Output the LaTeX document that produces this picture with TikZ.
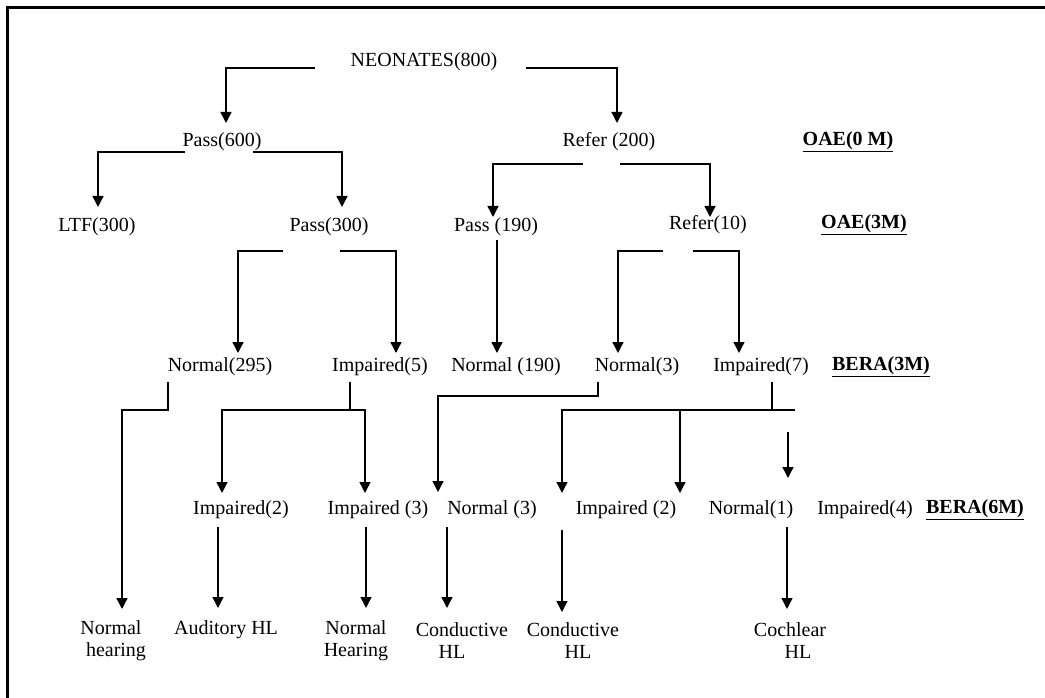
\documentclass[tikz,border=0pt]{standalone}
\usepackage{fontspec}
\setmainfont{Liberation Serif}
\usetikzlibrary{arrows.meta}
\tikzset{
  lbl/.style={inner sep=0pt, font=\fontsize{20}{22}\selectfont},
  two/.style={lbl, align=center},
  conn/.style={line width=1.4pt, line join=miter},
  arr/.style={conn, -{Triangle[length=11pt,width=11pt]}},
  frame/.style={line width=3pt}
}
\begin{document}
\begin{tikzpicture}[x=1pt,y=-1pt]
\useasboundingbox (0,0) rectangle (1045,698);
\draw[frame] (7,698) -- (7,7.5) -- (1045,7.5);

% nodes
\node[lbl] (neo) at (424,62) {NEONATES(800)};
\node[lbl] (p600) at (222,142) {Pass(600)};
\node[lbl] (r200) at (609,142) {Refer (200)};
\node[lbl] (oae0) at (848,142) {\underline{\textbf{OAE(0 M)}}};
\node[lbl] (ltf) at (97,227) {LTF(300)};
\node[lbl] (p300) at (329,227) {Pass(300)};
\node[lbl] (p190) at (496,227) {Pass (190)};
\node[lbl] (r10) at (708,225) {Refer(10)};
\node[lbl] (oae3) at (864,225) {\underline{\textbf{OAE(3M)}}};
\node[lbl] (n295) at (220,367) {Normal(295)};
\node[lbl] (i5) at (380,367) {Impaired(5)};
\node[lbl] (n190) at (506,367) {Normal (190)};
\node[lbl] (n3a) at (637,367) {Normal(3)};
\node[lbl] (i7) at (761,367) {Impaired(7)};
\node[lbl] (bera3) at (881,367) {\underline{\textbf{BERA(3M)}}};
\node[lbl] (i2a) at (241,510) {Impaired(2)};
\node[lbl] (i3) at (378,510) {Impaired (3)};
\node[lbl] (n3b) at (492,510) {Normal (3)};
\node[lbl] (i2b) at (626,510) {Impaired (2)};
\node[lbl] (n1) at (751,510) {Normal(1)};
\node[lbl] (i4) at (865,510) {Impaired(4)};
\node[lbl] (bera6) at (975,510) {\underline{\textbf{BERA(6M)}}};
\node[two] (nh1) at (111,641) {Normal\\\hspace*{10pt}hearing};
\node[lbl] (ahl) at (226,630) {Auditory HL};
\node[two] (nh2) at (356,641) {Normal\\Hearing};
\node[two] (chl1) at (462,641) {Conductive\\HL\hspace*{20pt}};
\node[two] (chl2) at (573,641) {Conductive\\\hspace*{10pt}HL};
\node[two] (cochl) at (790,641) {Cochlear\\\hspace*{16pt}HL};

% connector ends
\coordinate (neoL) at (315,68);
\coordinate (neoR) at (526,68);
\coordinate (p600in) at (226,123);
\coordinate (r200in) at (617,123);
\coordinate (p600L) at (185,152);
\coordinate (p600R) at (253,152);
\coordinate (ltfin) at (98,207);
\coordinate (p300in) at (342,207);
\coordinate (r200L) at (583,164);
\coordinate (r200R) at (620,164);
\coordinate (p190in) at (493,217);
\coordinate (r10in) at (710,217);
\coordinate (p300L) at (283,251);
\coordinate (p300R) at (340,251);
\coordinate (n295in) at (238,353);
\coordinate (i5in) at (396,353);
\coordinate (p190out) at (497,240);
\coordinate (n190in) at (497,353);
\coordinate (r10L) at (663,251);
\coordinate (r10R) at (693,251);
\coordinate (n3ain) at (618,353);
\coordinate (i7in) at (739,353);
\coordinate (n295out) at (168,382);
\coordinate (n295bend) at (168,410);
\coordinate (nh1in) at (122,609);
\coordinate (i5out) at (350,382);
\coordinate (i5bend) at (350,410);
\coordinate (i2ain) at (222,493);
\coordinate (i3in) at (365,493);
\coordinate (n3aout) at (598,382);
\coordinate (n3abend) at (598,396);
\coordinate (n3bin) at (438,492);
\coordinate (i7out) at (772,382);
\coordinate (i7bend) at (772,410);
\coordinate (i7end) at (795,410);
\coordinate (i2bin) at (562,493);
\coordinate (i2bin2) at (680,493);
\coordinate (n1top) at (788,432);
\coordinate (n1in) at (788,478);
\coordinate (i2aout) at (218,527);
\coordinate (ahlin) at (218,608);
\coordinate (i3out) at (366,527);
\coordinate (nh2in) at (366,608);
\coordinate (n3bout) at (447,527);
\coordinate (chl1in) at (447,608);
\coordinate (i2bout) at (562,530);
\coordinate (chl2in) at (562,612);
\coordinate (n1out) at (787,527);
\coordinate (cochlin) at (787,609);

% connectors
\draw[arr] (neoL) -| (p600in);
\draw[arr] (neoR) -| (r200in);
\draw[arr] (p600L) -| (ltfin);
\draw[arr] (p600R) -| (p300in);
\draw[arr] (r200L) -| (p190in);
\draw[arr] (r200R) -| (r10in);
\draw[arr] (p300L) -| (n295in);
\draw[arr] (p300R) -| (i5in);
\draw[arr] (p190out) -- (n190in);
\draw[arr] (r10L) -| (n3ain);
\draw[arr] (r10R) -| (i7in);
\draw[arr] (n295out) -- (n295bend) -| (nh1in);
\draw[conn] (i5out) -- (i5bend);
\draw[arr] (i5bend) -| (i2ain);
\draw[arr] (i5bend) -| (i3in);
\draw[arr] (n3aout) -- (n3abend) -| (n3bin);
\draw[conn] (i7out) -- (i7bend) -- (i7end);
\draw[arr] (i7bend) -| (i2bin);
\draw[arr] (i7bend) -| (i2bin2);
\draw[arr] (n1top) -- (n1in);
\draw[arr] (i2aout) -- (ahlin);
\draw[arr] (i3out) -- (nh2in);
\draw[arr] (n3bout) -- (chl1in);
\draw[arr] (i2bout) -- (chl2in);
\draw[arr] (n1out) -- (cochlin);
\end{tikzpicture}
\end{document}
